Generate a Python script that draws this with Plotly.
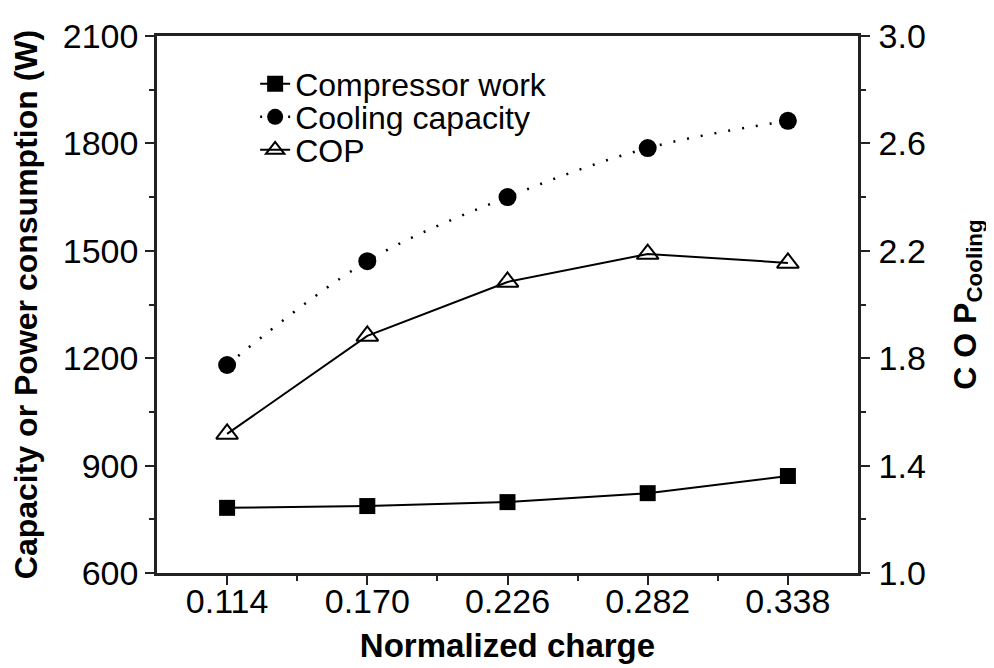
import plotly.graph_objects as go

charge = [0.114, 0.170, 0.226, 0.282, 0.338]
compressor_work = [782, 787, 798, 823, 871]
cooling_capacity = [1181, 1471, 1650, 1787, 1863]
cop = [1.518, 1.883, 2.084, 2.188, 2.155]

x_ticks = [0.114, 0.170, 0.226, 0.282, 0.338]
x_tick_labels = ["0.114", "0.170", "0.226", "0.282", "0.338"]

FONT = "Liberation Sans, Arial, Helvetica, sans-serif"

fig = go.Figure()
fig.add_trace(go.Scatter(
    x=charge, y=compressor_work, name="Compressor work", mode="lines+markers",
    line=dict(color="black", width=2),
    marker=dict(symbol="square", size=16, color="black"),
    legend="legend",
))
fig.add_trace(go.Scatter(
    x=charge, y=cooling_capacity, name="Cooling capacity", mode="lines+markers",
    line=dict(color="black", width=2.5, dash="2px,12px", shape="spline"),
    marker=dict(symbol="circle", size=18, color="black"),
    legend="legend2",
))
fig.add_trace(go.Scatter(
    x=charge, y=cop, name="COP", mode="lines+markers", yaxis="y2",
    line=dict(color="black", width=2),
    marker=dict(symbol="triangle-up-open", size=19, color="black", line=dict(width=2)),
    legend="legend3",
))

axis_common = dict(
    showline=True, linecolor="#222", linewidth=2.5,
    ticks="outside", ticklen=9, tickwidth=2, tickcolor="#222",
    showgrid=False, zeroline=False, automargin=False,
    tickfont=dict(family=FONT, size=34, color="black"),
)

leg_common = dict(
    x=0.14, xanchor="left", yanchor="middle",
    bgcolor="rgba(0,0,0,0)", borderwidth=0,
    font=dict(family=FONT, size=32, color="black"),
)

# page body has an 8px margin: figure is 8px smaller and margins shifted
fig.update_layout(
    width=986, height=660,
    margin=dict(l=149, r=136, t=28, b=95),
    plot_bgcolor="white", paper_bgcolor="white",
    font=dict(family=FONT, color="black"),
    showlegend=True,
    legend=dict(**leg_common, y=(573 - 84) / 537),
    legend2=dict(**leg_common, y=(573 - 117) / 537),
    legend3=dict(**leg_common, y=(573 - 150) / 537),
    xaxis=dict(
        **axis_common,
        range=[0.086, 0.366],
        tickmode="array", tickvals=x_ticks, ticktext=x_tick_labels,
        ticklabelstandoff=-13,
        minor=dict(tickvals=[0.142, 0.198, 0.254, 0.310], ticks="outside",
                   ticklen=5, tickwidth=2, tickcolor="#222"),
        mirror=True,
        title=dict(text="<b>Normalized charge</b>", standoff=16,
                   font=dict(family=FONT, size=33, color="black")),
    ),
    yaxis=dict(
        **axis_common,
        range=[600, 2100], tick0=600, dtick=300,
        minor=dict(dtick=150, ticks="outside", ticklen=5, tickwidth=2, tickcolor="#222"),
        title=dict(text="<b>Capacity or Power consumption (W)</b>", standoff=28,
                   font=dict(family=FONT, size=32, color="black")),
    ),
    yaxis2=dict(
        **axis_common,
        overlaying="y", side="right",
        range=[1.0, 3.0], tick0=1.0, dtick=0.4, tickformat=".1f",
        ticklabelstandoff=2,
        minor=dict(dtick=0.2, ticks="outside", ticklen=5, tickwidth=2, tickcolor="#222"),
        title=dict(text="<b>C O P<sub>Cooling</sub></b>", standoff=29,
                   font=dict(family=FONT, size=32, color="black")),
    ),
)

fig.write_html("out.html")
